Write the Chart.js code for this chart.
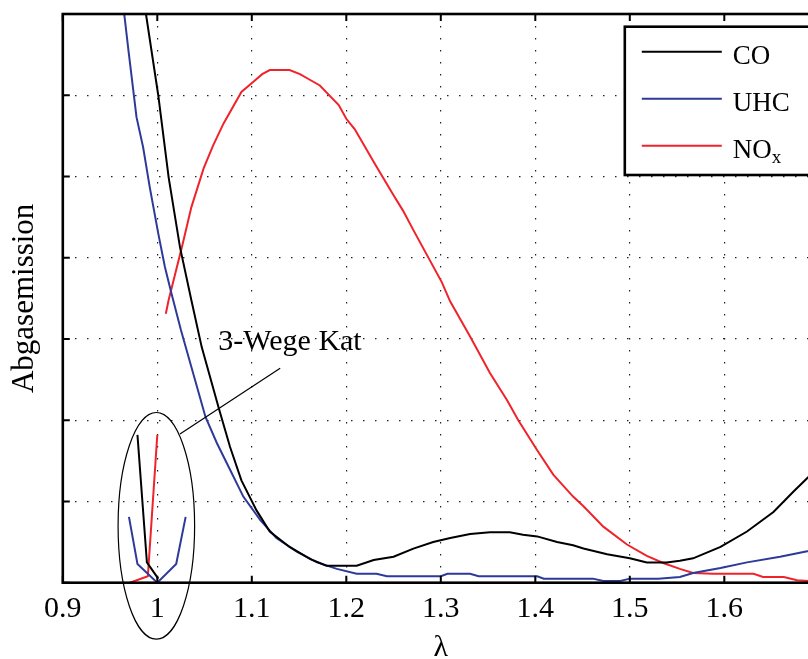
<!DOCTYPE html>
<html>
<head>
<meta charset="utf-8">
<script src="https://cdn.jsdelivr.net/npm/chart.js@4.4.1/dist/chart.umd.min.js"></script>
<style>
  html, body { margin: 0; padding: 0; overflow: hidden; background: #fff; }
  #wrap { width: 860px; height: 659px; }
</style>
</head>
<body>
<div id="wrap"><canvas id="emissionChart" width="860" height="659"></canvas></div>
<script>
// x axis: lambda, y axis: emission (no units shown)
const xTicks = [0.9, 1.0, 1.1, 1.2, 1.3, 1.4, 1.5, 1.6];
const xTickLabels = ['0.9', '1', '1.1', '1.2', '1.3', '1.4', '1.5', '1.6'];
const yTicks = [0, 1, 2, 3, 4, 5, 6, 7];

const seriesLabels = ['CO', 'UHC', 'NOₓ'];

// raw emissions (before catalyst)
const coX = [0.988, 1.001, 1.012, 1.024, 1.036, 1.047, 1.065, 1.077, 1.089, 1.105, 1.119, 1.140, 1.162, 1.179, 1.211, 1.229, 1.250, 1.271, 1.292, 1.310, 1.331, 1.352, 1.373, 1.387, 1.402, 1.423, 1.440, 1.451, 1.476, 1.500, 1.518, 1.539, 1.553, 1.567, 1.596, 1.624, 1.652, 1.673, 1.689, 1.700];
const coY = [7.0, 6.0, 4.99, 4.13, 3.48, 2.90, 2.15, 1.67, 1.26, 0.89, 0.63, 0.44, 0.29, 0.21, 0.21, 0.28, 0.32, 0.42, 0.50, 0.55, 0.60, 0.62, 0.62, 0.59, 0.57, 0.50, 0.46, 0.42, 0.35, 0.30, 0.25, 0.25, 0.27, 0.30, 0.44, 0.63, 0.87, 1.12, 1.30, 1.44];

const uhcX = [0.965, 0.9695, 0.978, 0.985, 0.992, 1.001, 1.008, 1.015, 1.025, 1.051, 1.063, 1.077, 1.091, 1.109, 1.126, 1.148, 1.169, 1.190, 1.211, 1.232, 1.243, 1.268, 1.300, 1.307, 1.331, 1.340, 1.402, 1.409, 1.461, 1.472, 1.490, 1.500, 1.530, 1.553, 1.567, 1.596, 1.624, 1.659, 1.689, 1.700];
const uhcY = [7.0, 6.55, 5.73, 5.36, 4.87, 4.30, 3.89, 3.56, 3.11, 2.04, 1.72, 1.39, 1.06, 0.77, 0.55, 0.38, 0.25, 0.17, 0.11, 0.11, 0.08, 0.08, 0.08, 0.11, 0.11, 0.08, 0.08, 0.05, 0.05, 0.02, 0.02, 0.05, 0.05, 0.07, 0.12, 0.18, 0.25, 0.32, 0.39, 0.43];

const noxX = [1.009, 1.012, 1.026, 1.036, 1.049, 1.059, 1.070, 1.089, 1.102, 1.111, 1.119, 1.140, 1.151, 1.160, 1.172, 1.192, 1.200, 1.209, 1.230, 1.250, 1.260, 1.271, 1.301, 1.310, 1.331, 1.352, 1.370, 1.382, 1.402, 1.419, 1.440, 1.451, 1.472, 1.497, 1.518, 1.536, 1.553, 1.567, 1.588, 1.631, 1.641, 1.663, 1.677, 1.689, 1.700];
const noxY = [3.31, 3.48, 4.13, 4.62, 5.10, 5.38, 5.65, 6.04, 6.17, 6.26, 6.31, 6.31, 6.26, 6.20, 6.12, 5.88, 5.71, 5.58, 5.16, 4.77, 4.58, 4.34, 3.70, 3.46, 3.03, 2.58, 2.25, 2.00, 1.63, 1.33, 1.06, 0.94, 0.69, 0.47, 0.33, 0.24, 0.17, 0.12, 0.11, 0.11, 0.07, 0.07, 0.03, 0.02, 0.01];

// after the 3-way catalyst, only near lambda = 1
const coKatX = [0.979, 0.989, 1.001];
const coKatY = [1.82, 0.25, 0.05];
const uhcKatX = [0.970, 0.979, 1.000, 1.020, 1.030];
const uhcKatY = [0.81, 0.23, 0.0, 0.23, 0.81];
const noxKatX = [0.971, 0.990, 1.000];
const noxKatY = [0.0, 0.08, 1.82];

const colors = ['#000000', '#2e3a99', '#f0232b'];

// annotation, in data units
const katEllipse = { x: 0.999, y: 0.70, rx: 0.0405, ry: 1.395 };
const katPointer = { x1: 1.024, y1: 1.83, x2: 1.130, y2: 2.64 };
const katText = { x: 1.0646, y: 2.86, text: '3-Wege Kat' };

const serif = "'Liberation Serif', 'Times New Roman', serif";

function pts(xs, ys) {
  return xs.map((x, i) => ({ x: x, y: ys[i] }));
}

function line(label, xs, ys, color, inLegend) {
  return {
    label: label,
    data: pts(xs, ys),
    borderColor: color,
    backgroundColor: color,
    borderWidth: 2,
    pointRadius: 0,
    tension: 0,
    fill: false,
    inLegend: inLegend
  };
}

// MATLAB-like box with inward ticks
const axesBox = {
  id: 'axesBox',
  afterDatasetsDraw(chart) {
    const { ctx, chartArea: a, scales } = chart;
    ctx.save();
    ctx.strokeStyle = '#000';
    ctx.lineWidth = 2;
    const len = 7;
    ctx.beginPath();
    scales.x.ticks.forEach(t => {
      const px = scales.x.getPixelForValue(t.value);
      ctx.moveTo(px, a.bottom); ctx.lineTo(px, a.bottom - len);
      ctx.moveTo(px, a.top); ctx.lineTo(px, a.top + len);
    });
    scales.y.ticks.forEach(t => {
      const py = scales.y.getPixelForValue(t.value);
      ctx.moveTo(a.left, py); ctx.lineTo(a.left + len, py);
      ctx.moveTo(a.right, py); ctx.lineTo(a.right - len, py);
    });
    ctx.stroke();
    ctx.lineWidth = 2.6;
    ctx.strokeRect(a.left, a.top, a.right - a.left, a.bottom - a.top);
    ctx.restore();
  }
};

const katNote = {
  id: 'katNote',
  afterDraw(chart) {
    const { ctx, scales } = chart;
    const x = scales.x, y = scales.y;
    const cx = x.getPixelForValue(katEllipse.x);
    const cy = y.getPixelForValue(katEllipse.y);
    const rx = x.getPixelForValue(katEllipse.x + katEllipse.rx) - cx;
    const ry = cy - y.getPixelForValue(katEllipse.y + katEllipse.ry);
    ctx.save();
    ctx.strokeStyle = '#000';
    ctx.lineWidth = 1.2;
    ctx.beginPath();
    ctx.ellipse(cx, cy, rx, ry, 0, 0, Math.PI * 2);
    ctx.stroke();
    ctx.beginPath();
    ctx.moveTo(x.getPixelForValue(katPointer.x1), y.getPixelForValue(katPointer.y1));
    ctx.lineTo(x.getPixelForValue(katPointer.x2), y.getPixelForValue(katPointer.y2));
    ctx.stroke();
    ctx.fillStyle = '#000';
    ctx.font = '30px ' + serif;
    ctx.textBaseline = 'alphabetic';
    ctx.fillText(katText.text, x.getPixelForValue(katText.x), y.getPixelForValue(katText.y));
    ctx.restore();
  }
};

const boxLegend = {
  id: 'boxLegend',
  afterDraw(chart) {
    const { ctx, chartArea: a } = chart;
    const items = chart.data.datasets.filter(d => d.inLegend);
    const left = a.right - 194, top = a.top + 12.7;
    const right = a.right - 7, bottom = top + 148.3;
    ctx.save();
    ctx.fillStyle = '#fff';
    ctx.fillRect(left, top, right - left, bottom - top);
    ctx.strokeStyle = '#000';
    ctx.lineWidth = 2.6;
    ctx.strokeRect(left, top, right - left, bottom - top);
    items.forEach((d, i) => {
      const ry = top + 25 + i * 47;
      ctx.strokeStyle = d.borderColor;
      ctx.lineWidth = 2;
      ctx.beginPath();
      ctx.moveTo(left + 17, ry);
      ctx.lineTo(left + 97, ry);
      ctx.stroke();
      ctx.fillStyle = '#000';
      ctx.textBaseline = 'alphabetic';
      ctx.font = '27px ' + serif;
      let label = d.label;
      let sub = '';
      if (label.endsWith('ₓ')) { sub = 'x'; label = label.slice(0, -1); }
      const tx = left + 108, ty = ry + 12;
      ctx.fillText(label, tx, ty);
      if (sub) {
        const w = ctx.measureText(label).width;
        ctx.font = '19px ' + serif;
        ctx.fillText(sub, tx + w, ty + 5);
      }
    });
    ctx.restore();
  }
};

const ctx = document.getElementById('emissionChart').getContext('2d');

new Chart(ctx, {
  type: 'line',
  data: {
    datasets: [
      line(seriesLabels[0], coX, coY, colors[0], true),
      line(seriesLabels[1], uhcX, uhcY, colors[1], true),
      line(seriesLabels[2], noxX, noxY, colors[2], true),
      line(seriesLabels[0] + ' Kat', coKatX, coKatY, colors[0], false),
      line(seriesLabels[1] + ' Kat', uhcKatX, uhcKatY, colors[1], false),
      line(seriesLabels[2] + ' Kat', noxKatX, noxKatY, colors[2], false)
    ]
  },
  options: {
    responsive: false,
    animation: false,
    devicePixelRatio: 1,
    layout: { padding: { left: 0, top: 14, right: 41.2, bottom: 0 } },
    plugins: {
      legend: { display: false },
      tooltip: { enabled: false }
    },
    scales: {
      x: {
        type: 'linear',
        min: 0.9,
        max: 1.7,
        afterBuildTicks: s => { s.ticks = xTicks.map(v => ({ value: v })); },
        afterFit: s => { s.height = 76.3; },
        ticks: {
          color: '#000',
          font: { family: serif, size: 30 },
          padding: 8,
          maxRotation: 0,
          callback: (v, i) => xTickLabels[i]
        },
        grid: { color: '#222', lineWidth: 1.2, drawTicks: false },
        border: { display: false, dash: [1.5, 10.5] },
        title: {
          display: true,
          text: 'λ',
          color: '#000',
          font: { family: serif, size: 30, lineHeight: '22px' },
          padding: 0
        }
      },
      y: {
        type: 'linear',
        min: 0,
        max: 7,
        afterBuildTicks: s => { s.ticks = yTicks.map(v => ({ value: v })); },
        afterFit: s => { s.width = 62.8; },
        ticks: { display: false },
        grid: { color: '#222', lineWidth: 1.2, drawTicks: false },
        border: { display: false, dash: [1.5, 10.5] },
        title: {
          display: true,
          text: 'Abgasemission',
          color: '#000',
          font: { family: serif, size: 31, lineHeight: 1.2 },
          padding: { top: 6, bottom: 0 }
        }
      }
    }
  },
  plugins: [axesBox, katNote, boxLegend]
});
</script>
</body>
</html>
